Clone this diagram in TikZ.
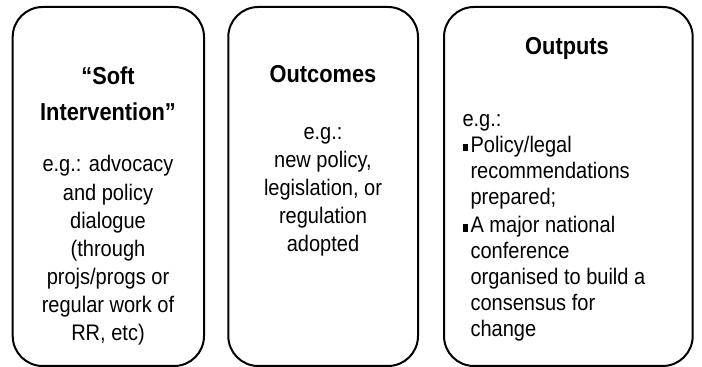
\documentclass[tikz,border=0pt]{standalone}
\usepackage{fontspec}
\setmainfont{Liberation Sans}[FakeStretch=0.89]
\usetikzlibrary{positioning}

\newcommand{\sqbul}{\rule[1.5pt]{5pt}{7pt}\hspace{3pt}}

\begin{document}
\begin{tikzpicture}[x=1pt, y=1pt,
    box/.style={draw, line width=2pt, rectangle, rounded corners=30pt, minimum height=359pt, inner sep=0pt, outer sep=0pt},
    title/.style={font=\fontsize{24.5}{36}\selectfont\bfseries, align=center, anchor=base},
    body/.style={font=\fontsize{22.5}{28.2}\selectfont, align=center, anchor=base}]
    \useasboundingbox (0,0) rectangle (702,367);

    \node[box, minimum width=191.3pt] (soft) at (108.35,180.5) {};
    \node[box, minimum width=189.7pt] (outcomes) at (323.15,180.5) {};
    \node[box, minimum width=248.7pt] (outputs) at (568.35,180.5) {};

    % base anchor = last line
    \node[title] (softtitle) at (108,246) {``Soft\\Intervention''};
    \node[body] (softbody) at (108,26) {e.g.: advocacy\\and policy\\dialogue\\(through\\projs/progs or\\regular work of\\RR, etc)};

    \node[title] (outcomestitle) at (323,284) {Outcomes};
    \node[body] (outcomesbody) at (323,115) {e.g.:\\new policy,\\legislation, or\\regulation\\adopted};

    \node[title] (outputstitle) at (567,312) {Outputs};
    \node[body, font=\fontsize{22.5}{26}\selectfont, align=left, anchor=base west] (outputsbody) at (459,30) {e.g.:\\\sqbul Policy/legal\\\hspace*{8pt}recommendations\\\hspace*{8pt}prepared;\\[3pt]\sqbul A major national\\\hspace*{8pt}conference\\\hspace*{8pt}organised to build a\\\hspace*{8pt}consensus for\\\hspace*{8pt}change};
\end{tikzpicture}
\end{document}
